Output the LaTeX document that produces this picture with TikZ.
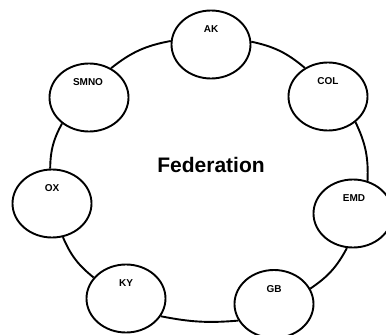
\documentclass[tikz,border=0pt]{standalone}
\usepackage{fontspec}
\setmainfont{Liberation Sans}
\usetikzlibrary{shapes.geometric}

\begin{document}
\begin{tikzpicture}[x=1pt,y=-1pt,
        member/.style={ellipse,draw,line width=1.9pt,minimum width=79pt,minimum height=68pt,inner sep=0pt},
        tag/.style={font=\fontsize{10}{12}\selectfont\bfseries},
        ring/.style={line width=1.9pt,bend left=14}]
            \useasboundingbox (0,0) rectangle (386,335);

            \node[member] (ak) at (211,44.5) {};
            \node[member] (col) at (328,96.5) {};
            \node[member] (emd) at (353,213.5) {};
            \node[member] (gb) at (274,304) {};
            \node[member] (ky) at (126,298.5) {};
            \node[member] (ox) at (52,203.5) {};
            \node[member] (smno) at (89,97.5) {};

            \node[tag] (akt) at (211,29) {AK};
            \node[tag] (colt) at (328,81.5) {COL};
            \node[tag] (emdt) at (354,198.5) {EMD};
            \node[tag] (gbt) at (274,289) {GB};
            \node[tag] (kyt) at (126,283.5) {KY};
            \node[tag] (oxt) at (52,188.5) {OX};
            \node[tag] (smnot) at (88,82.5) {SMNO};

            \node[font=\fontsize{21}{25}\selectfont\bfseries] (fed) at (211,165) {Federation};

            \draw[ring] (ak.4) to (col.129);
            \draw[ring] (col.-43) to (emd.66);
            \draw[ring] (emd.-100) to (gb.23);
            \draw[ring,bend left=8] (gb.205) to (ky.-27);
            \draw[ring] (ky.147) to (ox.-72);
            \draw[ring] (ox.93) to (smno.224);
            \draw[ring] (smno.53) to (ak.175);
\end{tikzpicture}
\end{document}
